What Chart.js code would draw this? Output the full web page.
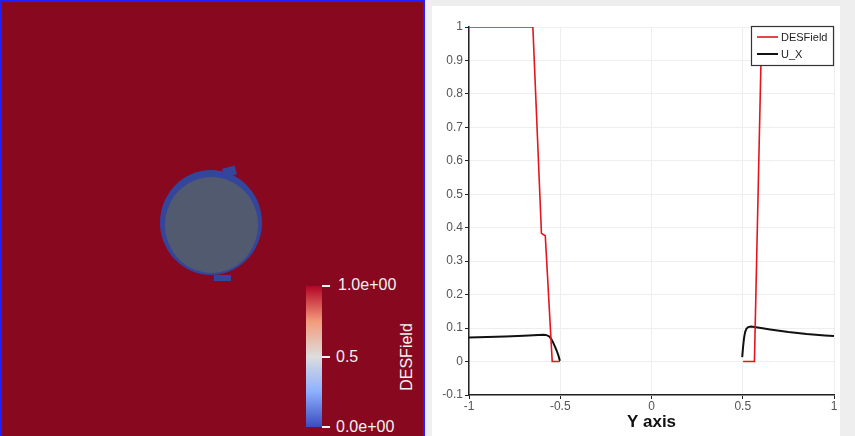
<!DOCTYPE html>
<html>
<head>
<meta charset="utf-8">
<script src="https://cdn.jsdelivr.net/npm/chart.js@4.4.1/dist/chart.umd.min.js"></script>
<style>
  html,body{margin:0;padding:0;}
  body{width:855px;height:436px;background:#eeeeee;position:relative;overflow:hidden;font-family:"Liberation Sans",Arial,sans-serif;}
  #left{position:absolute;left:0;top:0;width:425px;height:440px;box-sizing:border-box;background:#87081f;border:2px solid #1f1fff;}
  .abs{position:absolute;}
  #ring{left:160px;top:170px;width:102px;height:105px;border-radius:50%;background:#34459c;}
  #core{left:165px;top:177px;width:93px;height:96px;border-radius:50%;background:#525a6f;}
  #tab1{left:223px;top:167px;width:13px;height:9px;background:#34459c;transform:rotate(-15deg);}
  #tab2{left:214px;top:275px;width:17px;height:6px;background:#34459c;}
  #cbar{left:306px;top:286px;width:16px;height:141px;background:linear-gradient(to bottom,#b40426 0%,#f49a7b 25%,#dddddd 50%,#8db0fe 75%,#3b4cc0 100%);}
  .tk{position:absolute;width:8px;height:2px;background:#f2f2f2;left:322px;}
  .lbl{position:absolute;color:#f2f2f2;font-size:16px;line-height:16px;white-space:nowrap;}
  #ctitle{left:407px;top:357px;transform:translate(-50%,-50%) rotate(-90deg);}
  #panel{position:absolute;left:432px;top:6px;width:408px;height:430px;background:#ffffff;}
</style>
</head>
<body>
<div id="left">
</div>
<div class="abs" id="ring"></div>
<div class="abs" id="tab1"></div>
<div class="abs" id="tab2"></div>
<div class="abs" id="core"></div>
<div class="abs" id="cbar"></div>
<div class="tk" style="top:285px"></div>
<div class="tk" style="top:356px"></div>
<div class="tk" style="top:426px"></div>
<div class="lbl" style="left:338px;top:277px">1.0e+00</div>
<div class="lbl" style="left:336px;top:349px">0.5</div>
<div class="lbl" style="left:336px;top:419px">0.0e+00</div>
<div class="lbl" id="ctitle">DESField</div>
<div id="panel"><canvas id="c"></canvas></div>
<script>
const seriesNames = ["DESField", "U_X"];
const seriesColors = ["#e5141d", "#111111"];

const desX = [-1, -0.65, -0.603, -0.582, -0.544, -0.502, 0, 0.502, 0.564, 0.604, 1];
const desY = [1, 1, 0.383, 0.376, 0, 0, null, 0, 0, 1, 1];

const uxX = [-1, -0.9, -0.8, -0.7, -0.62, -0.59, -0.575, -0.56, -0.55, -0.54, -0.53, -0.52, -0.51, -0.502,
             0,
             0.497, 0.502, 0.507, 0.513, 0.52, 0.53, 0.545, 0.6, 0.65, 0.7, 0.75, 0.8, 0.85, 0.9, 0.95, 1];
const uxY = [0.072, 0.073, 0.075, 0.077, 0.079, 0.08, 0.079, 0.075, 0.068, 0.058, 0.046, 0.033, 0.018, 0.002,
             null,
             0.013, 0.045, 0.07, 0.088, 0.098, 0.103, 0.105, 0.1, 0.096, 0.092, 0.088, 0.085, 0.082, 0.08, 0.078, 0.076];

const xTicks = [-1, -0.5, 0, 0.5, 1];
const yTicks = [-0.1, 0, 0.1, 0.2, 0.3, 0.4, 0.5, 0.6, 0.7, 0.8, 0.9, 1];
const xTitle = "Y axis";

const pts = (xs, ys) => xs.map((x, i) => ({x: x, y: ys[i]}));
const FONT = '"Liberation Sans", Arial, sans-serif';

const legendPlugin = {
  id: 'boxLegend',
  afterDatasetsDraw(chart) {
    const ctx = chart.ctx, a = chart.chartArea;
    const w = 83, h = 40;
    const x = a.right - w, y = a.top - 1;
    ctx.save();
    ctx.fillStyle = '#ffffff';
    ctx.fillRect(x, y, w, h);
    ctx.strokeStyle = '#333333';
    ctx.lineWidth = 1.2;
    ctx.strokeRect(x + 0.5, y + 0.5, w - 1, h - 1);
    ctx.font = '11px ' + FONT;
    ctx.textBaseline = 'middle';
    chart.data.datasets.forEach((ds, i) => {
      const ly = y + 11 + i * 17;
      ctx.strokeStyle = ds.borderColor;
      ctx.lineWidth = ds.borderWidth;
      ctx.beginPath();
      ctx.moveTo(x + 6, ly);
      ctx.lineTo(x + 27, ly);
      ctx.stroke();
      ctx.fillStyle = '#222222';
      ctx.fillText(ds.label, x + 30, ly + 0.5);
    });
    ctx.restore();
  }
};

new Chart(document.getElementById('c'), {
  type: 'line',
  data: {
    datasets: [
      {label: seriesNames[0], data: pts(desX, desY), borderColor: seriesColors[0], borderWidth: 1.6, pointRadius: 0, tension: 0, spanGaps: false, fill: false},
      {label: seriesNames[1], data: pts(uxX, uxY), borderColor: seriesColors[1], borderWidth: 2, pointRadius: 0, tension: 0, spanGaps: false, fill: false}
    ]
  },
  options: {
    responsive: true,
    maintainAspectRatio: false,
    animation: false,
    layout: {padding: {top: 21, right: 6, left: 0, bottom: 0}},
    plugins: {legend: {display: false}, tooltip: {enabled: false}},
    scales: {
      x: {
        type: 'linear', min: -1, max: 1,
        afterBuildTicks: s => { s.ticks = xTicks.map(v => ({value: v})); },
        afterFit: s => { s.height = 41; },
        ticks: {callback: v => String(v), font: {size: 12, family: FONT}, color: '#555555', padding: 0, maxRotation: 0, autoSkip: false},
        grid: {color: '#eeeeee', tickColor: '#222222', tickLength: 4},
        border: {color: '#222222', width: 1.5},
        title: {display: true, text: xTitle, font: {size: 17, weight: 'bold', family: FONT}, color: '#111111', padding: {top: 0, bottom: 3}}
      },
      y: {
        type: 'linear', min: -0.1, max: 1,
        afterBuildTicks: s => { s.ticks = yTicks.map(v => ({value: v})); },
        afterFit: s => { s.width = 37; },
        ticks: {callback: v => String(v), font: {size: 12, family: FONT}, color: '#555555', padding: 2, autoSkip: false},
        grid: {color: '#eeeeee', tickColor: '#222222', tickLength: 4},
        border: {color: '#222222', width: 1.5}
      }
    }
  },
  plugins: [legendPlugin]
});
</script>
</body>
</html>
